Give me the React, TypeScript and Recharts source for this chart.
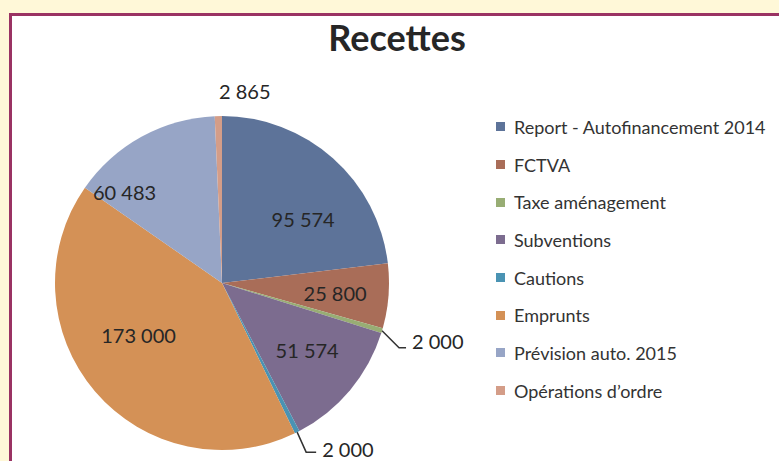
import { PieChart, Pie, Cell, Legend } from "recharts";

const categories = [
  "Report - Autofinancement 2014",
  "FCTVA",
  "Taxe aménagement",
  "Subventions",
  "Cautions",
  "Emprunts",
  "Prévision auto. 2015",
  "Opérations d’ordre",
];
const values = [95574, 25800, 2000, 51574, 2000, 173000, 60483, 2865];
const valueLabels = ["95 574", "25 800", "2 000", "51 574", "2 000", "173 000", "60 483", "2 865"];

const COLORS = [
  "#5d7399",
  "#a96d58",
  "#98ad74",
  "#7c6c8f",
  "#4a93b3",
  "#d49156",
  "#97a5c6",
  "#d49d88",
];

// where each data label sits (Excel "best fit" look)
const LABEL_LAYOUT: any[] = [
  { rf: 0.62, da: -10 },
  { rf: 0.68, da: -0.6 },
  { elbow: [17, 17, 7], tdy: -7 },
  { rf: 0.65, da: 1.6 },
  { elbow: [9, 20, 10], tdy: -3 },
  { rf: 0.59, da: -8.4 },
  { rf: 0.8, da: 18 },
  { rf: 1.16, da: -8 },
];

const data = categories.map((name, i) => ({ name, value: values[i], label: valueLabels[i] }));

const RADIAN = Math.PI / 180;
const FONT = "Lato, 'Open Sans', sans-serif";

const renderLabel = (props: any) => {
  const { cx, cy, midAngle, outerRadius, index } = props;
  const lay = LABEL_LAYOUT[index];
  const text = valueLabels[index];
  if (lay.elbow) {
    const [ddx, ddy, h] = lay.elbow;
    const sx = cx + outerRadius * Math.cos(-midAngle * RADIAN);
    const sy = cy + outerRadius * Math.sin(-midAngle * RADIAN);
    const mx = sx + ddx;
    const my = sy + ddy;
    const ex = mx + h;
    return (
      <g>
        <polyline
          points={`${sx},${sy} ${mx},${my} ${ex},${my}`}
          fill="none"
          stroke="#333"
          strokeWidth={1.5}
        />
        <text
          x={ex + 6}
          y={my + lay.tdy}
          fill="#262626"
          fontSize={20}
          fontFamily={FONT}
          dominantBaseline="central"
        >
          {text}
        </text>
      </g>
    );
  }
  const ang = midAngle + lay.da;
  const r = outerRadius * lay.rf;
  const x = cx + r * Math.cos(-ang * RADIAN);
  const y = cy + r * Math.sin(-ang * RADIAN);
  return (
    <text
      x={x}
      y={y}
      fill="#262626"
      fontSize={20}
      fontFamily={FONT}
      textAnchor="middle"
      dominantBaseline="central"
    >
      {text}
    </text>
  );
};

const renderLegend = () => (
  <div style={{ fontFamily: FONT, fontSize: 18, color: "#333" }}>
    {categories.map((c, i) => (
      <div key={c} style={{ height: 37.7, display: "flex", alignItems: "center" }}>
        <span
          style={{
            display: "inline-block",
            width: 9,
            height: 9,
            background: COLORS[i],
            marginRight: 9,
          }}
        />
        <span style={{ whiteSpace: "nowrap" }}>{c}</span>
      </div>
    ))}
  </div>
);

export default function App() {
  return (
    <div
      style={{
        position: "absolute",
        left: 0,
        top: 0,
        width: 779,
        height: 461,
        background: "#fff8d8",
        overflow: "hidden",
      }}
    >
      <div
        style={{
          position: "absolute",
          left: 9,
          top: 13,
          width: 800,
          height: 500,
          borderLeft: "3px solid #9a3363",
          borderTop: "3px solid #9a3363",
          background: "#fff",
        }}
      />
      <div
        style={{
          position: "absolute",
          left: 0,
          top: 15,
          width: 794,
          textAlign: "center",
          fontFamily: FONT,
          fontWeight: 700,
          fontSize: 36,
          color: "#262626",
        }}
      >
        Recettes
      </div>
      <div style={{ position: "absolute", left: 0, top: 0 }}>
        <PieChart width={779} height={461}>
          <Pie
            data={data}
            dataKey="value"
            nameKey="name"
            cx={217}
            cy={278}
            outerRadius={167}
            startAngle={90}
            endAngle={-270}
            stroke="none"
            label={renderLabel}
            labelLine={false}
            isAnimationActive={false}
          >
            {data.map((d, i) => (
              <Cell key={d.name} fill={COLORS[i]} />
            ))}
          </Pie>
          <Legend
            layout="vertical"
            content={renderLegend}
            wrapperStyle={{ left: 496, top: 108, width: 290, bottom: "auto" }}
          />
        </PieChart>
      </div>
    </div>
  );
}
